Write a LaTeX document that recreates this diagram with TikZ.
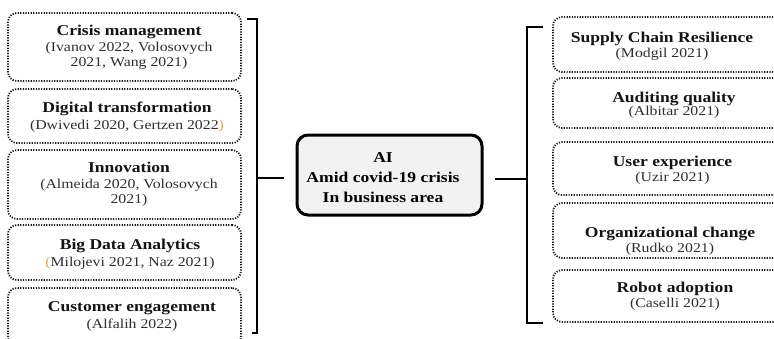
\documentclass[tikz,border=0pt]{standalone}
\usepackage{fontspec}
\setmainfont[FakeStretch=1.17]{Liberation Serif}
\usetikzlibrary{calc}
\definecolor{citegray}{HTML}{2E2E2E}
\definecolor{dotgray}{HTML}{1A1A1A}
\definecolor{orng}{HTML}{E8A33D}
\definecolor{ctrfill}{HTML}{F2F2F2}
\tikzset{
  dotbox/.style={draw=dotgray, line width=1.8pt, dash pattern=on 1.2pt off 1.4pt, rounded corners=9pt, inner sep=0pt},
  txt/.style={align=center, text=citegray, font=\fontsize{13.5}{15}\selectfont, inner sep=0pt},
  ctrbox/.style={draw=black, line width=3pt, rounded corners=11pt, fill=ctrfill, inner sep=0pt},
  brk/.style={line width=2.6pt, black},
}
\newcommand{\ttl}[1]{{\fontsize{15}{17}\selectfont\bfseries\color{black!92}#1}}
\begin{document}
\begin{tikzpicture}[x=1pt,y=-1pt]
\useasboundingbox (0,0) rectangle (774,338);
\clip (0,0) rectangle (774,338);
% left boxes
\node[dotbox, minimum width=233pt, minimum height=68pt] (L1) at (124.5,47) {};
\node[dotbox, minimum width=233pt, minimum height=54pt] (L2) at (124.5,116) {};
\node[dotbox, minimum width=233pt, minimum height=69pt] (L3) at (124.5,184.5) {};
\node[dotbox, minimum width=233pt, minimum height=55pt] (L4) at (124.5,252.5) {};
\node[dotbox, minimum width=233pt, minimum height=58pt] (L5) at (124.5,317) {};
\node[txt] (tL1) at (129,47.5) {\ttl{Crisis management}\\[1pt](Ivanov 2022, Volosovych\\2021, Wang 2021)};
\node[txt] (tL2) at (127,117) {\ttl{Digital transformation}\\[2pt](Dwivedi 2020, Gertzen 2022{\color{orng})}};
\node[txt] (tL3) at (129,184.5) {\ttl{Innovation}\\[1pt](Almeida 2020, Volosovych\\2021)};
\node[txt] (tL4) at (130,254) {\ttl{Big Data Analytics}\\[2pt]{\color{orng}(}Milojevi 2021, Naz 2021)};
\node[txt] (tL5) at (132,316) {\ttl{Customer engagement}\\[2pt](Alfalih 2022)};
% right boxes
\node[dotbox, minimum width=237pt, minimum height=55pt] (R1) at (671.5,44.5) {};
\node[dotbox, minimum width=237pt, minimum height=50pt] (R2) at (671.5,103) {};
\node[dotbox, minimum width=237pt, minimum height=53pt] (R3) at (671.5,168.5) {};
\node[dotbox, minimum width=237pt, minimum height=55pt] (R4) at (671.5,230.5) {};
\node[dotbox, minimum width=237pt, minimum height=52pt] (R5) at (671.5,296) {};
\node[txt] (tR1) at (662,46) {\ttl{Supply Chain Resilience}\\(Modgil 2021)};
\node[txt] (tR2) at (674,105.5) {\ttl{Auditing quality}\\[-2pt](Albitar 2021)};
\node[txt] (tR3) at (672.5,170) {\ttl{User experience}\\(Uzir 2021)};
\node[txt] (tR4) at (670,241) {\ttl{Organizational change}\\(Rudko 2021)};
\node[txt] (tR5) at (675,296.5) {\ttl{Robot adoption}\\(Caselli 2021)};
% centre
\node[ctrbox, minimum width=185pt, minimum height=80pt] (C) at (389.5,175) {};
\node[align=center, inner sep=0pt, font=\fontsize{15}{20}\selectfont\bfseries] (tC) at (383,177.5) {AI\\Amid covid-19 crisis\\In business area};
% brackets
\coordinate (lt) at (247,19);
\coordinate (lb) at (252,333);
\coordinate (lm) at (257,178);
\draw[brk] (lt) -- (lt -| lm) -- (lb -| lm) -- (lb);
\draw[brk] (lm) -- ($(C.west |- lm)+(-12,0)$);
\coordinate (rt) at (543,27);
\coordinate (rb) at (543,323);
\coordinate (rm) at (527,179);
\draw[brk] (rt) -- (rt -| rm) -- (rb -| rm) -- (rb);
\draw[brk] (rm) -- ($(C.east |- rm)+(11,0)$);
\end{tikzpicture}
\end{document}
